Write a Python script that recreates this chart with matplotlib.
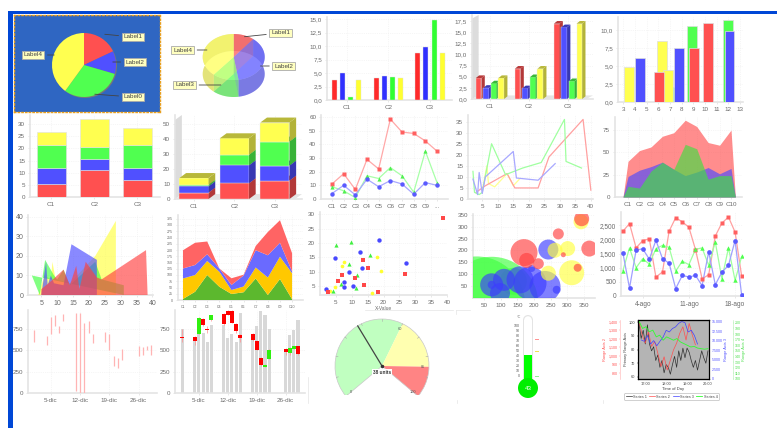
"""Montage of twenty small sample charts, redrawn one axes per thumbnail."""
import numpy as np
import matplotlib
matplotlib.use("Agg")
import matplotlib.pyplot as plt
from matplotlib.lines import Line2D
from matplotlib.patches import Ellipse, Polygon, Rectangle, Wedge
from matplotlib.ticker import FuncFormatter

W, H = 777, 428
RED, BLUE, GREEN, YELLOW = "#ff5050", "#5050ff", "#50ff50", "#ffff50"
TXT = "#6a6a6a"
plt.rcParams["font.family"] = ["Liberation Sans", "DejaVu Sans"]
plt.rcParams["font.size"] = 4.5

# ---- data ----
CATS3 = ["C1", "C2", "C3"]
PIE1_VALUES = [18, 11.5, 30.5, 40]
PIE2_VALUES = [10.8, 36.7, 13.6, 38.9]

GROUP_RED = [3.8, 4.0, 8.7]
GROUP_BLUE = [5.1, 4.4, 9.8]
GROUP_GREEN = [0.5, 4.2, 14.8]
GROUP_YELLOW = [3.8, 4.0, 8.7]

BAR3D_RED = [4.7, 6.8, 16.9]
BAR3D_BLUE = [2.5, 2.4, 16.1]
BAR3D_GREEN = [3.5, 4.9, 4.0]
BAR3D_YELLOW = [4.7, 6.8, 16.9]

XYBAR_YELLOW_X, XYBAR_YELLOW = [3.5, 6.3, 6.8], [4.8, 8.4, 4.5]
XYBAR_GREEN_X, XYBAR_GREEN = [7.7, 8.9, 12.0], [2.1, 10.6, 11.4]
XYBAR_RED_X, XYBAR_RED = [6.1, 9.1, 10.3], [4.2, 7.5, 11.0]
XYBAR_BLUE_X, XYBAR_BLUE = [4.4, 7.8, 12.1], [6.1, 7.5, 9.9]

STACK_RED = [5.3, 11.3, 7.0]
STACK_BLUE = [6.5, 4.3, 4.8]
STACK_GREEN = [9.4, 5.0, 9.4]
STACK_YELLOW = [5.5, 11.3, 7.0]

STACK3D_RED = [4.3, 10.5, 12.3]
STACK3D_BLUE = [4.2, 12.0, 10.0]
STACK3D_GREEN = [1.0, 7.0, 16.0]
STACK3D_YELLOW = [4.5, 11.0, 12.7]

CATS10 = ["C1", "C2", "C3", "C4", "C5", "C6", "C7", "C8", "C9", "C10"]
LINE_RED = [11, 18.5, 7, 29, 22, 58.5, 49, 48, 42.5, 35]
LINE_BLUE = [4, 10, 3, 14.5, 9, 13.5, 11, 3.5, 12, 10]
LINE_GREEN = [9, 6, 1, 17, 15, 23, 17, 5, 35, 12]

XY_RED_X = [3, 6, 13, 15.5, 23, 26.5, 37.5, 40]
XY_RED_Y = [3, 6, 11.5, 5, 5, 19, 36, 4]
XY_GREEN_X = [2, 2.5, 4, 5, 8, 12.5, 18, 24, 31.5, 32, 37]
XY_GREEN_Y = [12.5, 3, 2, 3, 25, 11, 14, 16.5, 36, 17, 14]
XY_BLUE_X = [2, 3.5, 4, 5, 6, 15, 16, 23, 28.5]
XY_BLUE_Y = [9, 2, 12, 2.5, 10, 21.5, 9.5, 8.5, 16]
XY_YELLOW_X = [5, 6.5, 7, 9, 13, 15, 17]
XY_YELLOW_Y = [4, 15, 7, 5.5, 11.5, 6, 9]

AREA_RED = [40, 52, 56, 68, 72, 86, 79, 61, 58, 75]
AREA_BLUE = [23, 30, 34, 39, 31, 24, 28, 33, 26, 32]
AREA_GREEN = [12, 10, 29, 39, 31, 59, 54, 20, 24, 24]

XYAREA_YELLOW_X = [4, 6, 8, 8.5, 9.5, 14, 22, 28.5, 28.5]
XYAREA_YELLOW_Y = [0, 10, 8, 17, 8, 6, 20, 38, 0]
XYAREA_GREEN_X = [2, 4.5, 6.2, 9, 10, 12, 14, 22, 24, 31, 31]
XYAREA_GREEN_Y = [10, 0, 18, 10, 8, 13, 5, 17, 8, 5, 0]
XYAREA_BLUE_X = [5, 6.5, 7, 8, 9, 12, 14.5, 22.5, 22.5]
XYAREA_BLUE_Y = [0, 17, 5, 10, 6, 5, 26, 18, 0]
XYAREA_RED_X = [5, 5, 8, 12, 14, 16, 17, 19, 22.5, 24, 38, 38.5]
XYAREA_RED_Y = [0, 3, 7, 13, 5, 15, 3, 17, 9, 8, 23, 0]

SA_GREEN = [4, 33, 100, 53, 24, 31, 86, 20, 84, 3]
SA_YELLOW = [82, 67, 56, 60, 16, 23, 44, 70, 89, 104]
SA_BLUE = [40, 40, 27, 13, 20, 44, 69, 89, 56, 7]
SA_RED = [73, 89, 51, 0, 27, 3, 17, 93, 90, 73]

SC_RED_X = [38.6, 26.8, 2.4, 5.7, 6.8, 11, 13.9, 13.4, 15, 18.2]
SC_RED_Y = [28.8, 9.1, 2.8, 6.9, 8.8, 7.9, 5.3, 14.1, 11.4, 2.8]
SC_BLUE_X = [18.5, 12.6, 4.8, 27.1, 13.3, 9.2, 7.5, 7.5, 10.5, 2]
SC_BLUE_Y = [20.9, 17, 14.7, 13.1, 11.4, 9.8, 6.5, 4.8, 5, 4]
SC_GREEN_X = [4.9, 9.9, 15.9, 9.2, 11.7, 6.6, 11.3, 4.2]
SC_GREEN_Y = [19.3, 20.2, 15.8, 12.6, 8.7, 5.8, 4.2, 3.3]
SC_YELLOW_X = [6.8, 7.5, 17.8, 19.2, 4.8, 16.3, 3.1]
SC_YELLOW_Y = [12.1, 13.3, 15.2, 10.3, 4.8, 2.6, 3.3]

BUB_GREEN_X = [28, 73, 138]
BUB_GREEN_Y = [-30, -23, 70]
BUB_GREEN_D = [97, 93, 27]
BUB_BLUE_X = [73, 73, 110, 98, 158, 188, 233, 268, 243, 193]
BUB_BLUE_Y = [55, 55, 76, 20, 76, 62, 48, 34, 204, 124]
BUB_BLUE_D = [23, 8, 22, 20, 27, 33, 31, 8, 20, 7]
BUB_YELLOW_X = [313, 301, 263, 243, 341]
BUB_YELLOW_Y = [106, 208, 201, 104, 321]
BUB_YELLOW_D = [25, 15, 15, 15, 15]
BUB_RED_X = [170, 178, 213, 273, 288, 331, 366, 343]
BUB_RED_Y = [191, 158, 144, 270, 182, 127, 208, 334]
BUB_RED_D = [27, 15, 11, 11, 5, 8, 16, 15]

TS_DAYS = list(range(1, 20))
TS_RED = [2290, 2560, 1700, 1960, 2020, 670, 850, 2290, 2770, 2620, 2430, 1640, 610, 750, 2120, 2580, 2790, 2260, 700]
TS_BLUE = [1520, 280, 1620, 1670, 1300, 1970, 1320, 1160, 260, 730, 670, 730, 365, 1560, 400, 840, 1085, 1960, 25]
TS_GREEN = [900, 1700, 1000, 1320, 1130, 1670, 1790, 1720, 880, 1230, 1110, 1650, 1700, 1085, 1910, 610, 1700, 550, 1400]

HL_DAYS = [1, 4, 5, 6, 7, 8, 11, 12, 13, 14, 15, 18, 19, 20, 21, 22, 26, 27, 28, 29]
HL_HIGH = [742, 664, 887, 910, 781, 926, 937, 937, 820, 840, 691, 715, 691, 430, 410, 520, 547, 535, 547, 566]
HL_LOW = [598, 566, 691, 781, 703, 848, 27, 0, 0, 703, 586, 598, 508, 312, 293, 391, 430, 449, 508, 449]

VOLUME = [750, 605, 879, 703, 594, 793, 800, 645, 691, 594, 937, 625, 781, 965, 910, 754, 508, 676, 742, 859]
CANDLE_OPEN = [645, 656, 695, 871, 742, 851, 926, 965, 965, 812, 684, 691, 605, 410, 305, 398, 516, 469, 520, 547]
CANDLE_CLOSE = [645, 613, 879, 793, 742, 910, 808, 918, 820, 723, 645, 617, 508, 324, 332, 508, 484, 527, 547, 461]
CANDLE_HIGH = [750, 664, 887, 880, 781, 915, 935, 970, 970, 820, 691, 700, 610, 420, 335, 515, 530, 535, 550, 555]
CANDLE_LOW = [600, 566, 690, 785, 703, 845, 800, 910, 815, 700, 600, 610, 500, 315, 300, 395, 440, 450, 515, 450]
DATE_TICKS = [5, 12, 19, 26]
DATE_LABELS = ["5-dic", "12-dic", "19-dic", "26-dic"]

GAUGE_BANDS = [0, 60, 85, 100]
GAUGE_VALUE = 38
THERMO_VALUE = 43

M1_T = [16.7 + 0.1 * i for i in range(34)]
M1_BLACK = [99, 88, 94, 84, 98, 84, 79, 82, 72, 76, 67, 72, 63, 69, 67, 62, 69, 75, 67, 79, 72, 81, 74, 81, 78, 72, 67, 72, 65, 72, 79, 74, 70, 79]
M2_T = [16.7 + 0.15 * i for i in range(19)]
M2_RED = [1400, 1245, 1150, 1285, 1110, 1170, 1030, 875, 990, 835, 950, 1070, 1150, 1265, 1340, 1185, 1380, 1245, 1130]
M3_T = [16.8 + 0.15 * i for i in range(19)]
M3_BLUE = [10270, 9900, 11450, 9180, 10090, 8730, 9900, 11000, 12800, 12350, 13260, 13700, 14640, 15090, 14800, 12350, 12800, 11450, 9180]
M4_T = [16.7 + 0.165 * i for i in range(21)]
M4_GREEN = [203, 190, 193, 184, 187, 175, 178, 169, 175, 172, 169, 172, 166, 163, 160, 157, 158, 155, 154, 153, 154]


fig = plt.figure(figsize=(W / 100, H / 100), dpi=100, facecolor="white")


def px_axes(x0, y0, x1, y1):
    return fig.add_axes([x0 / W, 1 - y1 / H, (x1 - x0) / W, (y1 - y0) / H])


def comma1(v, _=None):
    return f"{v:.1f}".replace(".", ",")


def thousands(v, _=None):
    return f"{v:,.0f}"


def style(ax, grid=True, fs=4.5):
    for s in ("top", "right"):
        ax.spines[s].set_visible(False)
    for s in ("left", "bottom"):
        ax.spines[s].set_color("#e4e4e4")
        ax.spines[s].set_linewidth(1.2)
    ax.tick_params(length=1.5, width=0.5, color="#dddddd", labelcolor=TXT, labelsize=fs, pad=2)
    if grid:
        ax.grid(True, color="#eeeeee", lw=0.5, ls=":")
        ax.set_axisbelow(True)


def no_frame(ax):
    ax.set_xticks([])
    ax.set_yticks([])
    for s in ax.spines.values():
        s.set_visible(False)


def shade(color, f):
    rgb = np.array(matplotlib.colors.to_rgb(color))
    return tuple(rgb * f)


def bar3d(ax, x, bottom, height, width, color, dx, dy):
    left, right = x - width / 2, x + width / 2
    top = bottom + height
    ax.bar(x, height, width, bottom=bottom, color=color, edgecolor="#e8e8e8", lw=0.3, zorder=3)
    ax.add_patch(Polygon([(right, bottom), (right + dx, bottom + dy), (right + dx, top + dy), (right, top)],
                         color=shade(color, 0.7), lw=0, zorder=3))
    ax.add_patch(Polygon([(left, top), (right, top), (right + dx, top + dy), (left + dx, top + dy)],
                         color=shade(color, 0.72), lw=0, zorder=3))


def wall3d(ax, dx, dy):
    x0, x1 = ax.get_xlim()
    y1 = ax.get_ylim()[1]
    ax.add_patch(Polygon([(x0, 0), (x0 + dx, dy), (x0 + dx, y1), (x0, y1 - dy)], color="#dcdcdc", lw=0, zorder=1))
    ax.add_patch(Polygon([(x0, 0), (x1 - dx, 0), (x1, dy), (x0 + dx, dy)], color="#e4e4e4", lw=0, zorder=1))


def label_box(ax, text, xy, xytext):
    ax.annotate(text, xy=xy, xytext=xytext, ha="center", va="center", fontsize=4.6, color="#444444",
                bbox=dict(boxstyle="square,pad=0.3", fc="#ffffc0", ec="#aaaaaa", lw=0.6),
                arrowprops=dict(arrowstyle="-", color="#444444", lw=0.6))


# ---- window frame and leftovers of the thumbnail borders ----
fig.add_artist(Rectangle((8 / W, 1 - 14 / H), 1 - 8 / W, 2.5 / H, transform=fig.transFigure, color="#0047d6", lw=0))
fig.add_artist(Rectangle((8 / W, 0), 5 / W, 1 - 11.5 / H, transform=fig.transFigure, color="#0047d6", lw=0))
for xa, xb, ya, yb in ((365, 453, 309.5, 309.5), (456, 470, 310, 310), (456, 456, 310, 314),
                       (308, 308, 377, 403), (457, 457, 400, 403), (603, 603, 400, 403)):
    fig.add_artist(Line2D([xa / W, xb / W], [1 - ya / H, 1 - yb / H], color="#e4e4e4", lw=0.5))

# ---- row 1 ----
ax = px_axes(14, 14.5, 160, 112)
ax.pie(PIE1_VALUES, colors=["#787878"] * 4, startangle=90, counterclock=False, center=(71, 46), radius=32)
ax.pie(PIE1_VALUES, colors=[RED, BLUE, GREEN, YELLOW], startangle=90, counterclock=False, center=(70, 47), radius=32)
ax.set_xlim(0, 146)
ax.set_ylim(0, 97.5)
ax.set_frame_on(True)
ax.set_facecolor("#2f66c2")
no_frame(ax)
for s in ax.spines.values():
    s.set_visible(True)
    s.set_color("#e8a020")
    s.set_linestyle(":")
    s.set_linewidth(1)
label_box(ax, "Label1", (88, 78), (119, 75))
label_box(ax, "Label2", (96, 50), (121, 50))
label_box(ax, "Label0", (78, 18), (119, 15))
label_box(ax, "Label4", (43, 57), (19, 57))

ax = px_axes(162, 20, 310, 110)
no_frame(ax)
ax.set_xlim(-71.7, 76.3)
ax.set_ylim(-53, 37)
edges = np.cumsum([0] + PIE2_VALUES) / sum(PIE2_VALUES)
for i, c in enumerate([RED, BLUE, GREEN, YELLOW]):
    a = np.radians(90 - 360 * np.linspace(edges[i], edges[i + 1], 40))
    px, py = 31 * np.cos(a), 23 * np.sin(a)
    ax.add_patch(Polygon(np.c_[np.r_[0, px], np.r_[-17, py - 17]], color=c, alpha=0.35, lw=0))
    ax.add_patch(Polygon(np.c_[np.r_[px, px[::-1]], np.r_[py, py[::-1] - 17]], color=shade(c, 0.8), alpha=0.55, lw=0))
    ax.add_patch(Polygon(np.c_[np.r_[0, px], np.r_[0, py]], color=c, alpha=0.55, lw=0))
label_box(ax, "Label1", (8, 20), (47, 24))
label_box(ax, "Label2", (24, -9), (50, -9))
label_box(ax, "Label3", (-10, -28), (-49, -28))
label_box(ax, "Label4", (-24, 7), (-51, 7))

ax = px_axes(327, 17, 452, 100)
style(ax)
pos = np.arange(3)
for off, vals, c in zip((-0.29, -0.097, 0.097, 0.29), (GROUP_RED, GROUP_BLUE, GROUP_GREEN, GROUP_YELLOW),
                        ("#ff2a2a", "#3030ff", "#30ff30", "#ffff30")):
    ax.bar(pos + off, vals, 0.12, color=c, edgecolor="#e0e0e0", lw=0.3, zorder=3)
ax.set_xlim(-0.48, 2.53)
ax.set_ylim(0, 15.4)
ax.set_xticks(pos, CATS3)
ax.set_yticks(np.arange(0, 15.1, 2.5))
ax.yaxis.set_major_formatter(FuncFormatter(comma1))

ax = px_axes(472, 15, 593, 99)
style(ax)
ax.set_xlim(-0.46, 2.64)
ax.set_ylim(0, 18.85)
wall3d(ax, 0.17, 0.8)
for off, vals, c in zip((-0.29, -0.097, 0.097, 0.29), (BAR3D_RED, BAR3D_BLUE, BAR3D_GREEN, BAR3D_YELLOW),
                        (RED, BLUE, GREEN, YELLOW)):
    for i, v in enumerate(vals):
        bar3d(ax, i + off, 0, v, 0.145, c, 0.085, 0.6)
ax.set_xticks(pos, CATS3)
ax.set_yticks(np.arange(0, 17.6, 2.5))
ax.yaxis.set_major_formatter(FuncFormatter(comma1))

ax = px_axes(618, 17, 743, 102)
style(ax)
for xs, ys, c in ((XYBAR_YELLOW_X, XYBAR_YELLOW, YELLOW), (XYBAR_GREEN_X, XYBAR_GREEN, GREEN),
                  (XYBAR_RED_X, XYBAR_RED, RED), (XYBAR_BLUE_X, XYBAR_BLUE, BLUE)):
    ax.bar(xs, ys, 0.85, color=c, edgecolor="#dddddd", lw=0.5, zorder=3)
ax.set_xlim(2.55, 13.26)
ax.set_ylim(0, 11.8)
ax.set_xticks(range(3, 14))
ax.set_yticks(np.arange(0, 10.1, 2.5))
ax.yaxis.set_major_formatter(FuncFormatter(comma1))

# ---- row 2 ----
ax = px_axes(30, 115, 160, 197)
style(ax)
bottom = np.zeros(3)
for vals, c in ((STACK_RED, RED), (STACK_BLUE, BLUE), (STACK_GREEN, GREEN), (STACK_YELLOW, YELLOW)):
    ax.bar(pos, vals, 0.67, bottom=bottom, color=c, edgecolor="#e0e0e0", lw=0.4, zorder=3)
    bottom += np.array(vals)
ax.set_xlim(-0.49, 2.53)
ax.set_ylim(0, 33.7)
ax.set_xticks(pos, CATS3)
ax.set_yticks(range(0, 31, 5))

ax = px_axes(175, 115, 302, 199)
style(ax)
ax.set_xlim(-0.47, 2.67)
ax.set_ylim(0, 56)
wall3d(ax, 0.17, 3.3)
bottom = np.zeros(3)
for vals, c in ((STACK3D_RED, RED), (STACK3D_BLUE, BLUE), (STACK3D_GREEN, GREEN), (STACK3D_YELLOW, YELLOW)):
    for i, v in enumerate(vals):
        bar3d(ax, i, bottom[i], v, 0.72, c, 0.165, 3.3)
    bottom += np.array(vals)
ax.set_xticks(pos, CATS3)
ax.set_yticks(range(0, 51, 10))

ax = px_axes(321, 115, 448, 199)
style(ax)
idx = np.arange(10)
ax.plot(idx, LINE_RED, "-", color="#ffa8a8", lw=0.9, zorder=3)
ax.plot(idx, LINE_RED, "s", color="#ff6060", ms=3.2, mec="none", zorder=4)
ax.plot(idx, LINE_GREEN, "-", color="#a8ffa8", lw=0.9, zorder=3)
ax.plot(idx, LINE_GREEN, "^", color="#50f050", ms=3, mec="none", zorder=4)
ax.plot(idx, LINE_BLUE, "-", color="#a8a8ff", lw=0.9, zorder=3)
ax.plot(idx, LINE_BLUE, "o", color="#5a5aff", ms=3.2, mec="none", zorder=4)
ax.set_xlim(-0.94, 9.94)
ax.set_ylim(0, 61.5)
ax.set_xticks(idx, CATS10[:9] + ["..."])
ax.set_yticks(range(0, 61, 10))

ax = px_axes(468, 115, 593, 199)
style(ax)
ax.plot(XY_YELLOW_X, XY_YELLOW_Y, color="#ffff90", lw=0.9)
ax.plot(XY_RED_X, XY_RED_Y, color="#ffa0a0", lw=0.9)
ax.plot(XY_GREEN_X, XY_GREEN_Y, color="#a0ffa0", lw=0.9)
ax.plot(XY_BLUE_X, XY_BLUE_Y, color="#a8a8ff", lw=0.9)
ax.set_xlim(0.4, 40.7)
ax.set_ylim(0, 38)
ax.set_xticks(range(5, 41, 5))
ax.set_yticks(range(0, 36, 5))

ax = px_axes(615, 117, 742, 197)
style(ax)
area_x = np.r_[-0.44, idx, 9.38]
for vals, c in ((AREA_RED, "#ff5050"), (AREA_BLUE, "#4a4aff"), (AREA_GREEN, "#40e040")):
    ax.fill_between(area_x, np.r_[0, vals, 0], color=c, alpha=0.65, lw=0, zorder=3)
ax.set_xlim(-1.14, 9.96)
ax.set_ylim(0, 89.6)
ax.set_xticks(idx, CATS10)
ax.set_yticks([0, 25, 50, 75])

# ---- row 3 ----
ax = px_axes(28, 215, 153, 295)
style(ax, fs=5)
for xs, ys, c in ((XYAREA_YELLOW_X, XYAREA_YELLOW_Y, "#ffff40"), (XYAREA_GREEN_X, XYAREA_GREEN_Y, "#40ff40"),
                  (XYAREA_BLUE_X, XYAREA_BLUE_Y, "#4a4aff"), (XYAREA_RED_X, XYAREA_RED_Y, "#ff4040")):
    ax.fill(xs, ys, color=c, alpha=0.65, lw=0, zorder=3)
ax.set_xlim(0.8, 40.2)
ax.set_ylim(0, 41)
ax.set_xticks(range(5, 41, 5))
ax.set_yticks(range(0, 41, 10))

ax = px_axes(178, 215, 303, 300)
style(ax, fs=2.6)
ax.stackplot(idx, SA_GREEN, SA_YELLOW, SA_BLUE, SA_RED, colors=["#5cb82e", "#ffc800", "#6a6aff", "#ff6464"], lw=0, zorder=3)
ax.set_xlim(-0.41, 9.9)
ax.set_ylim(0, 340)
ax.set_xticks(idx, CATS10)
ax.set_yticks(range(0, 326, 25))

ax = px_axes(320, 212, 447, 295)
style(ax)
ax.scatter(SC_YELLOW_X, SC_YELLOW_Y, s=7, c="#ffff30", marker="o", lw=0, zorder=3)
ax.scatter(SC_GREEN_X, SC_GREEN_Y, s=9, c="#40f040", marker="^", lw=0, zorder=3)
ax.scatter(SC_BLUE_X, SC_BLUE_Y, s=10, c="#4848ff", marker="o", lw=0, zorder=3)
ax.scatter(SC_RED_X, SC_RED_Y, s=10, c="#ff4848", marker="s", lw=0, zorder=3)
ax.set_xlim(0, 40)
ax.set_ylim(1.9, 30.8)
ax.set_xticks(range(5, 41, 5))
ax.set_yticks(range(5, 31, 5))
ax.set_xlabel("X-Value", fontsize=3.5, color=TXT, labelpad=1)

ax = px_axes(473, 214, 595, 298)
style(ax)
for xs, ys, ds, c in ((BUB_GREEN_X, BUB_GREEN_Y, BUB_GREEN_D, "#40ff40"),
                      (BUB_BLUE_X, BUB_BLUE_Y, BUB_BLUE_D, "#3c3cff"),
                      (BUB_YELLOW_X, BUB_YELLOW_Y, BUB_YELLOW_D, "#ffff40"),
                      (BUB_RED_X, BUB_RED_Y, BUB_RED_D, "#ff4040")):
    ax.scatter(xs, ys, s=(np.array(ds) * 0.72) ** 2, c=c, alpha=0.65, lw=0, zorder=3)
ax.set_xlim(17, 383)
ax.set_ylim(-0.7, 354)
ax.set_xticks(range(50, 351, 50))
ax.set_yticks(range(50, 351, 50))

ax = px_axes(621, 212, 743, 296)
style(ax, fs=4.7)
ax.plot(TS_DAYS, TS_RED, "-", color="#ffa0a0", lw=0.9, zorder=3)
ax.plot(TS_DAYS, TS_RED, "s", color="#ff6060", ms=3.2, mec="none", zorder=4)
ax.plot(TS_DAYS, TS_GREEN, "-", color="#a0ffa0", lw=0.9, zorder=3)
ax.plot(TS_DAYS, TS_GREEN, "^", color="#50ff50", ms=3.2, mec="none", zorder=4)
ax.plot(TS_DAYS, TS_BLUE, "-", color="#a0a0ff", lw=0.9, zorder=3)
ax.plot(TS_DAYS, TS_BLUE, "o", color="#5a5aff", ms=3.4, mec="none", zorder=4)
ax.set_xlim(0.71, 19.2)
ax.set_ylim(0, 2970)
ax.set_xticks([4, 11, 18], ["4-ago", "11-ago", "18-ago"])
ax.set_yticks(range(0, 2501, 500))
ax.yaxis.set_major_formatter(FuncFormatter(thousands))

# ---- row 4 ----
ax = px_axes(28, 310, 157, 393)
style(ax)
ax.vlines(HL_DAYS, HL_LOW, HL_HIGH, color="#ffb4b4", lw=0.9, zorder=3)
ax.set_xlim(-0.5, 30.4)
ax.set_ylim(0, 973)
ax.set_xticks(DATE_TICKS, DATE_LABELS)
ax.set_yticks([0, 250, 500, 750])

ax = px_axes(175, 310, 305, 393)
style(ax)
ax.bar(HL_DAYS, VOLUME, 0.75, color="#d8d8d8", lw=0, zorder=2)
ax.vlines(HL_DAYS, CANDLE_LOW, CANDLE_HIGH, color="#ff9090", lw=0.5, zorder=3)
for d, o, c in zip(HL_DAYS, CANDLE_OPEN, CANDLE_CLOSE):
    col = "#30f010" if c > o else "#ff0000"
    ax.bar(d, max(abs(c - o), 8), 1.0, bottom=min(o, c), color=col, lw=0, zorder=4)
ax.set_xlim(-0.8, 30.7)
ax.set_ylim(0, 973)
ax.set_xticks(DATE_TICKS, DATE_LABELS)
ax.set_yticks([0, 250, 500, 750])

ax = px_axes(330, 310, 440, 395)
no_frame(ax)
ax.set_xlim(-52, 58)
ax.set_ylim(-29, 56)


def gauge_angle(v):
    return 220 - 260 * v / 100


for lo, hi, c in zip(GAUGE_BANDS[:-1], GAUGE_BANDS[1:], ("#c0ffc0", "#ffffb0", "#ff8484")):
    ax.add_patch(Wedge((0, 0), 47, gauge_angle(hi), gauge_angle(lo), fc=c, ec="none"))
ax.add_patch(Wedge((0, 0), 47, gauge_angle(100), gauge_angle(0), fc="none", ec="#c8c8c8", lw=0.5))
for v in range(0, 101, 10):
    a = np.radians(gauge_angle(v))
    ax.plot([45 * np.cos(a), 47 * np.cos(a)], [45 * np.sin(a), 47 * np.sin(a)], color="#aaaaaa", lw=0.4)
for v in GAUGE_BANDS:
    a = np.radians(gauge_angle(v))
    ax.text(41 * np.cos(a), 41 * np.sin(a), str(v), fontsize=2.8, color="#555555", ha="center", va="center")
a = np.radians(gauge_angle(GAUGE_VALUE))
ax.plot([0, 47 * np.cos(a)], [0, 47 * np.sin(a)], color="#444444", lw=0.9, solid_capstyle="round")
ax.plot(0, 0, "o", color="#333333", ms=1.5)
ax.text(0, -6, f"{GAUGE_VALUE} units", fontsize=3.4, fontweight="bold", color="#333333", ha="center", va="center",
        bbox=dict(fc="white", ec="none", pad=0.6))

ax = px_axes(510, 310, 550, 400)
no_frame(ax)
ax.set_xlim(-18, 22)
ax.set_ylim(-48, 132)
ax.bar(0, 136, 10, bottom=-24, color="#e4e4e4", lw=0)
ax.add_patch(Ellipse((0, 112), 10, 20, color="#e4e4e4", lw=0))
ax.bar(0, 136, 7.6, bottom=-24, color="white", lw=0)
ax.add_patch(Ellipse((0, 112), 7.6, 15, color="white", lw=0))
ax.bar(0, THERMO_VALUE + 24, 7.6, bottom=-24, color="#00ff00", lw=0)
ax.add_patch(Ellipse((0, -24), 20, 40, color="#00ee00", lw=0))
ax.text(0, -24, str(THERMO_VALUE), color="white", fontsize=4.5, ha="center", va="center")
for v in range(0, 101, 10):
    ax.text(-8, v, str(v), fontsize=2.6, color="#555555", ha="right", va="center")
ax.text(-9, 118, "°C", fontsize=2.8, color="#777777", ha="center", va="center")
for v, c in ((75, "#ff9090"), (50, "#f0e050"), (0, "#90f090")):
    ax.plot([7, 10], [v, v], color=c, lw=0.7)

ax = px_axes(638, 320, 709, 379)
ax.set_facecolor("#b4b4b4")
ax.plot(M1_T, M1_BLACK, color="#303030", lw=0.5, label="Series 1")
ax.set_xlim(16.65, 20.05)
ax.set_ylim(58.5, 101.5)
ax.set_xticks([17, 18, 19, 20], ["17:00", "18:00", "19:00", "20:00"])
ax.set_yticks(range(60, 101, 10))
ax.tick_params(labelsize=2.8, length=1, width=0.3, pad=1, labelcolor="#444444")
ax.set_xlabel("Time of Day", fontsize=3, color="#444444", labelpad=1)
ax.set_ylabel("Primary Range Axis", fontsize=2.8, color="#444444", labelpad=0.8)
for s in ax.spines.values():
    s.set_color("#999999")
    s.set_linewidth(0.4)

ax2 = ax.twinx()
ax2.plot(M2_T, M2_RED, color="#ff5050", lw=0.5, label="Series 2")
ax2.yaxis.tick_left()
ax2.yaxis.set_label_position("left")
ax2.spines["left"].set_position(("outward", 13))
ax2.spines["left"].set_color("#ffb0b0")
ax2.spines["left"].set_linewidth(0.4)
ax2.set_ylim(730, 1420)
ax2.set_yticks(range(800, 1401, 100))
ax2.yaxis.set_major_formatter(FuncFormatter(thousands))
ax2.tick_params(labelsize=2.6, length=1, width=0.3, pad=0.8, labelcolor="#ff5050", color="#ff9090")
ax2.set_ylabel("Range Axis 2", fontsize=2.8, color="#ff5050", labelpad=0.8)

ax3 = ax.twinx()
ax3.plot(M3_T, M3_BLUE, color="#4040ff", lw=0.5, label="Series 3")
ax3.set_ylim(0, 15500)
ax3.set_yticks(range(0, 15001, 2500))
ax3.yaxis.set_major_formatter(FuncFormatter(lambda v, _: f"{v:,.0f}".replace(",", ".")))
ax3.tick_params(labelsize=2.6, length=1, width=0.3, pad=0.8, labelcolor="#5050ff", color="#9090ff")
ax3.set_ylabel("Range Axis 3", fontsize=2.8, color="#5050ff", labelpad=0.8)

ax4 = ax.twinx()
ax4.plot(M4_T, M4_GREEN, color="#30ff30", lw=0.6, label="Series 4")
ax4.spines["right"].set_position(("outward", 17))
ax4.spines["right"].set_color("#b0f0b0")
ax4.spines["right"].set_linewidth(0.4)
ax4.set_ylim(100, 205)
ax4.set_yticks(range(100, 201, 10))
ax4.tick_params(labelsize=2.6, length=1, width=0.3, pad=0.8, labelcolor="#50e050", color="#90f090")
ax4.set_ylabel("Range Axis 4", fontsize=2.8, color="#50e050", labelpad=0.8)

handles = [a.get_lines()[0] for a in (ax, ax2, ax3, ax4)]
leg = fig.legend(handles, [h.get_label() for h in handles], loc="center", ncol=4,
                 bbox_to_anchor=(671.5 / W, 1 - 396.5 / H), fontsize=2.7, handlelength=1.6, handletextpad=0.3,
                 columnspacing=0.7, borderpad=0.4, fancybox=True, edgecolor="#999999", labelcolor="#444444")
leg.get_frame().set_linewidth(0.4)

fig.savefig("out.png", dpi=100)
